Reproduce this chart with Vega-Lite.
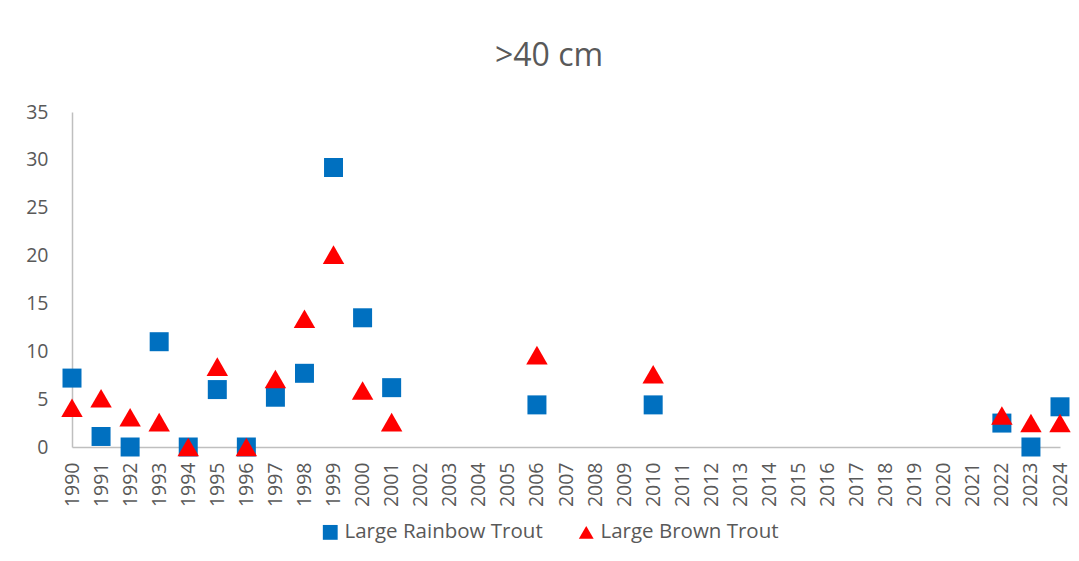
{
  "$schema": "https://vega.github.io/schema/vega-lite/v6.json",
  "width": 988,
  "height": 335,
  "autosize": "none",
  "padding": {"left": 72, "top": 112, "right": 19, "bottom": 114},
  "background": "white",
  "title": {"text": ">40 cm", "fontSize": 32, "font": "Open Sans", "fontWeight": "normal", "color": "#595959", "offset": 29, "dx": -17},
  "data": {"values": [
    {"year": "1990", "species": "Large Rainbow Trout", "count": 7.2},
    {"year": "1991", "species": "Large Rainbow Trout", "count": 1.1},
    {"year": "1992", "species": "Large Rainbow Trout", "count": 0},
    {"year": "1993", "species": "Large Rainbow Trout", "count": 11},
    {"year": "1994", "species": "Large Rainbow Trout", "count": 0},
    {"year": "1995", "species": "Large Rainbow Trout", "count": 6},
    {"year": "1996", "species": "Large Rainbow Trout", "count": 0},
    {"year": "1997", "species": "Large Rainbow Trout", "count": 5.2},
    {"year": "1998", "species": "Large Rainbow Trout", "count": 7.7},
    {"year": "1999", "species": "Large Rainbow Trout", "count": 29.2},
    {"year": "2000", "species": "Large Rainbow Trout", "count": 13.5},
    {"year": "2001", "species": "Large Rainbow Trout", "count": 6.2},
    {"year": "2006", "species": "Large Rainbow Trout", "count": 4.4},
    {"year": "2010", "species": "Large Rainbow Trout", "count": 4.4},
    {"year": "2022", "species": "Large Rainbow Trout", "count": 2.5},
    {"year": "2023", "species": "Large Rainbow Trout", "count": 0},
    {"year": "2024", "species": "Large Rainbow Trout", "count": 4.2},
    {"year": "1990", "species": "Large Brown Trout", "count": 4.1},
    {"year": "1991", "species": "Large Brown Trout", "count": 5.1},
    {"year": "1992", "species": "Large Brown Trout", "count": 3.1},
    {"year": "1993", "species": "Large Brown Trout", "count": 2.6},
    {"year": "1994", "species": "Large Brown Trout", "count": 0},
    {"year": "1995", "species": "Large Brown Trout", "count": 8.4},
    {"year": "1996", "species": "Large Brown Trout", "count": 0},
    {"year": "1997", "species": "Large Brown Trout", "count": 7.1},
    {"year": "1998", "species": "Large Brown Trout", "count": 13.4},
    {"year": "1999", "species": "Large Brown Trout", "count": 20.1},
    {"year": "2000", "species": "Large Brown Trout", "count": 5.9},
    {"year": "2001", "species": "Large Brown Trout", "count": 2.6},
    {"year": "2006", "species": "Large Brown Trout", "count": 9.6},
    {"year": "2010", "species": "Large Brown Trout", "count": 7.6},
    {"year": "2022", "species": "Large Brown Trout", "count": 3.3},
    {"year": "2023", "species": "Large Brown Trout", "count": 2.5},
    {"year": "2024", "species": "Large Brown Trout", "count": 2.5}
  ]},
  "encoding": {
    "x": {
      "field": "year", "type": "ordinal",
      "scale": {"type": "point", "padding": 0, "domain": ["1990","1991","1992","1993","1994","1995","1996","1997","1998","1999","2000","2001","2002","2003","2004","2005","2006","2007","2008","2009","2010","2011","2012","2013","2014","2015","2016","2017","2018","2019","2020","2021","2022","2023","2024"]},
      "axis": {"title": null, "labelAngle": -90, "labelFontSize": 19.5, "labelFont": "Open Sans", "labelColor": "#595959", "ticks": false, "domainColor": "#BFBFBF", "domainWidth": 1.5, "labelPadding": 15, "grid": false}
    },
    "y": {
      "field": "count", "type": "quantitative",
      "scale": {"domain": [0, 35], "nice": false, "zero": true},
      "axis": {"title": null, "values": [0,5,10,15,20,25,30,35], "labelFontSize": 19.5, "labelFont": "Open Sans", "labelColor": "#595959", "ticks": false, "domainColor": "#BFBFBF", "domainWidth": 1.5, "labelPadding": 24, "grid": false}
    },
    "color": {
      "field": "species", "type": "nominal",
      "scale": {"domain": ["Large Rainbow Trout", "Large Brown Trout"], "range": ["#0070C0", "#FF0000"]},
      "legend": {"title": null, "orient": "none", "legendX": 248, "legendY": 410, "direction": "horizontal", "labelFontSize": 20.5, "labelFont": "Open Sans", "labelColor": "#595959", "labelLimit": 0, "symbolSize": 220, "columnPadding": 32, "labelOffset": 4, "symbolOpacity": 1}
    },
    "shape": {
      "field": "species", "type": "nominal",
      "scale": {"domain": ["Large Rainbow Trout", "Large Brown Trout"], "range": ["square", "triangle-up"]},
      "legend": {"title": null, "orient": "none", "legendX": 248, "legendY": 410, "direction": "horizontal", "labelFontSize": 20.5, "labelFont": "Open Sans", "labelColor": "#595959", "labelLimit": 0, "symbolSize": 220, "columnPadding": 32, "labelOffset": 4, "symbolOpacity": 1}
    }
  },
  "layer": [
    {"transform": [{"filter": "datum.species === 'Large Rainbow Trout'"}], "mark": {"type": "point", "filled": true, "size": 361, "opacity": 1}},
    {"transform": [{"filter": "datum.species === 'Large Brown Trout'"}], "mark": {"type": "point", "filled": true, "size": 460, "opacity": 1}}
  ],
  "config": {"view": {"stroke": null}, "font": "Open Sans"}
}
